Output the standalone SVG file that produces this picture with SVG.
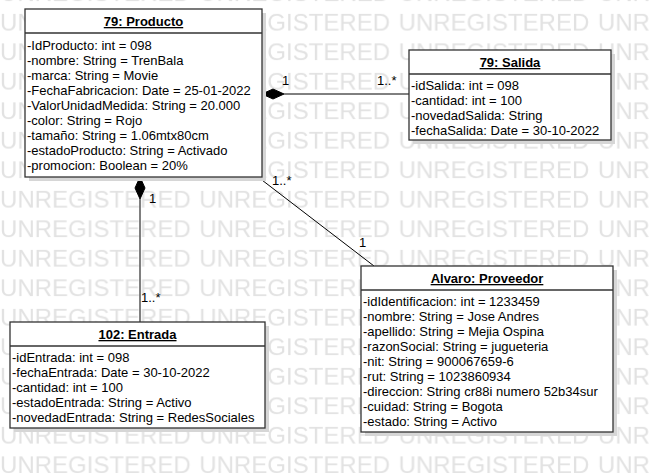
<svg xmlns="http://www.w3.org/2000/svg" width="650" height="473" viewBox="0 0 650 473">
<style>
  .box { fill: #ffffff; stroke: #333333; stroke-width: 1.3; }
  .shadow { fill: #d6d6d6; }
  .sep { stroke: #333333; stroke-width: 1.3; }
  .title { font-family: "Liberation Sans", Arial, sans-serif; font-size: 13px; font-weight: bold; text-anchor: middle; text-decoration: underline; fill: #000; }
  .attr { font-family: "Liberation Sans", Arial, sans-serif; font-size: 13px; fill: #000; }
  .lbl { font-family: "Liberation Sans", Arial, sans-serif; font-size: 13px; fill: #000; }
  .wm { font-family: "Liberation Sans", Arial, sans-serif; font-size: 24px; fill: #e2e2e2; }
  .conn { stroke: #000; stroke-width: 1; fill: none; }
  .dia { fill: #000; stroke: #000; stroke-width: 1; }
</style>
<defs>
  <pattern id="wmp" x="0" y="7" width="199.3" height="29.5" patternUnits="userSpaceOnUse">
    <text class="wm" x="0" y="24">UNREGISTERED</text>
  </pattern>
</defs>
<rect x="0" y="0" width="650" height="473" fill="#ffffff"/>
<rect x="0" y="0" width="650" height="473" fill="url(#wmp)"/>

<g id="connectors">
  <g id="producto-salida">
    <polygon class="dia" points="262,94 273,89 284,94 273,99"/>
    <line class="conn" x1="284" y1="94" x2="409" y2="94"/>
    <text class="lbl" x="282" y="85">1</text>
    <text class="lbl" x="377" y="85">1..*</text>
  </g>
  <g id="producto-entrada">
    <polygon class="dia" points="140,177 145,188 140,199 135,188"/>
    <line class="conn" x1="140" y1="199" x2="140" y2="322"/>
    <text class="lbl" x="149" y="203">1</text>
    <text class="lbl" x="141" y="302">1..*</text>
  </g>
  <g id="producto-proveedor">
    <line class="conn" x1="258" y1="177" x2="374" y2="266"/>
    <text class="lbl" x="272" y="185">1..*</text>
    <text class="lbl" x="359" y="247">1</text>
  </g>
</g>

<g id="producto">
  <rect class="shadow" x="29" y="13" width="237" height="168"/>
  <rect class="box" x="25" y="9" width="237" height="168"/>
  <line class="sep" x1="25" y1="33" x2="262" y2="33"/>
  <text class="title" x="143.5" y="26">79: Producto</text>
  <text class="attr" x="27" y="50">-IdProducto: int = 098</text>
  <text class="attr" x="27" y="65">-nombre: String = TrenBala</text>
  <text class="attr" x="27" y="80">-marca: String = Movie</text>
  <text class="attr" x="27" y="95">-FechaFabricacion: Date = 25-01-2022</text>
  <text class="attr" x="27" y="110">-ValorUnidadMedida: String = 20.000</text>
  <text class="attr" x="27" y="125">-color: String = Rojo</text>
  <text class="attr" x="27" y="140">-tamaño: String = 1.06mtx80cm</text>
  <text class="attr" x="27" y="155">-estadoProducto: String = Activado</text>
  <text class="attr" x="27" y="170">-promocion: Boolean = 20%</text>
</g>

<g id="salida">
  <rect class="shadow" x="413" y="54" width="202" height="90"/>
  <rect class="box" x="409" y="50" width="202" height="90"/>
  <line class="sep" x1="409" y1="74" x2="611" y2="74"/>
  <text class="title" x="510" y="67">79: Salida</text>
  <text class="attr" x="411" y="90">-idSalida: int = 098</text>
  <text class="attr" x="411" y="105">-cantidad: int = 100</text>
  <text class="attr" x="411" y="120">-novedadSalida: String</text>
  <text class="attr" x="411" y="135">-fechaSalida: Date = 30-10-2022</text>
</g>

<g id="entrada">
  <rect class="shadow" x="14" y="326" width="255" height="106"/>
  <rect class="box" x="10" y="322" width="255" height="106"/>
  <line class="sep" x1="10" y1="346" x2="265" y2="346"/>
  <text class="title" x="137.5" y="339">102: Entrada</text>
  <text class="attr" x="12" y="362">-idEntrada: int = 098</text>
  <text class="attr" x="12" y="377">-fechaEntrada: Date = 30-10-2022</text>
  <text class="attr" x="12" y="392">-cantidad: int = 100</text>
  <text class="attr" x="12" y="407">-estadoEntrada: String = Activo</text>
  <text class="attr" x="12" y="422">-novedadEntrada: String = RedesSociales</text>
</g>

<g id="proveedor">
  <rect class="shadow" x="365" y="270" width="252" height="166"/>
  <rect class="box" x="361" y="266" width="252" height="166"/>
  <line class="sep" x1="361" y1="290" x2="613" y2="290"/>
  <text class="title" x="487" y="283">Alvaro: Proveedor</text>
  <text class="attr" x="363" y="306">-idIdentificacion: int = 1233459</text>
  <text class="attr" x="363" y="321">-nombre: String = Jose Andres</text>
  <text class="attr" x="363" y="336">-apellido: String = Mejia Ospina</text>
  <text class="attr" x="363" y="351">-razonSocial: String = jugueteria</text>
  <text class="attr" x="363" y="366">-nit: String = 900067659-6</text>
  <text class="attr" x="363" y="381">-rut: String = 1023860934</text>
  <text class="attr" x="363" y="396">-direccion: String cr88i numero 52b34sur</text>
  <text class="attr" x="363" y="411">-cuidad: String = Bogota</text>
  <text class="attr" x="363" y="426">-estado: String = Activo</text>
</g>
</svg>
